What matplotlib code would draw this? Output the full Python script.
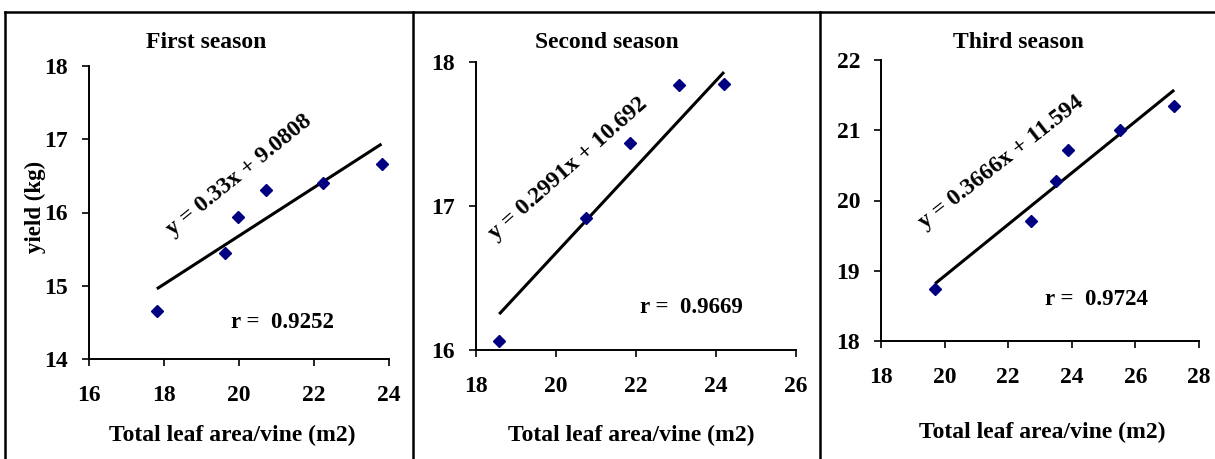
import matplotlib.pyplot as plt
from matplotlib.lines import Line2D
import numpy as np

plt.rcParams['font.family'] = ['Liberation Serif', 'DejaVu Serif']
plt.rcParams['font.weight'] = 'bold'

# data
titles = ["First season", "Second season", "Third season"]

x1 = [17.81, 19.62, 19.98, 20.72, 22.23, 23.80]
y1 = [14.66, 15.45, 15.94, 16.31, 16.40, 16.66]
x2 = [18.58, 20.75, 21.86, 23.07, 24.20]
y2 = [16.06, 16.92, 17.44, 17.84, 17.85]
x3 = [19.70, 22.71, 23.49, 23.89, 25.52, 27.22]
y3 = [18.74, 19.71, 20.28, 20.72, 21.01, 21.34]

slopes = [0.33, 0.2991, 0.3666]
intercepts = [9.0808, 10.692, 11.594]
eq_labels = ["y = 0.33x + 9.0808", "y = 0.2991x + 10.692", "y = 0.3666x + 11.594"]
r_labels = ["r =  0.9252", "r =  0.9669", "r =  0.9724"]

xlims = [(16, 24), (18, 26), (18, 28)]
ylims = [(14, 18), (16, 18), (18, 22)]
yticks = [[14, 15, 16, 17, 18], [16, 17, 18], [18, 19, 20, 21, 22]]

W, H = 1215, 459
fig = plt.figure(figsize=(W / 100, H / 100), dpi=100)

# axes boxes in pixels: left, right, top, bottom
boxes = [(89, 389, 66, 359), (476, 796, 62, 350), (881, 1199, 60, 341)]
title_pos = [(206, 43), (607, 43), (1018, 43)]
xlabel_pos = [(232, 435), (631, 435), (1042, 432)]
eq_pos = [(0.50, 0.628, 39), (0.288, 0.631, 41.5), (0.38, 0.637, 38)]
r_pos = [(0.645, 0.123), (0.673, 0.146), (0.678, 0.146)]

xs = [x1, x2, x3]
ys = [y1, y2, y3]

for i in range(3):
    l, r, t, b = boxes[i]
    ax = fig.add_axes([l / W, 1 - b / H, (r - l) / W, (b - t) / H])
    ax.set_xlim(*xlims[i])
    ax.set_ylim(*ylims[i])
    ax.set_xticks(np.arange(xlims[i][0], xlims[i][1] + 1, 2))
    ax.set_yticks(yticks[i])
    for s in ['top', 'right']:
        ax.spines[s].set_visible(False)
    for s in ['left', 'bottom']:
        ax.spines[s].set_linewidth(1.4)
    ax.tick_params(axis='both', direction='out', length=5, width=1.2, labelsize=17)
    ax.tick_params(axis='x', pad=14)
    ax.tick_params(axis='y', pad=10)

    ax.plot(xs[i], ys[i], linestyle='none', marker='D', ms=6,
            color='#000080', clip_on=False, zorder=3)
    xf = np.array([min(xs[i]), max(xs[i])])
    ax.plot(xf, slopes[i] * xf + intercepts[i], color='black', lw=2.2,
            solid_capstyle='butt', zorder=2)

    ex, ey, ang = eq_pos[i]
    ax.text(ex, ey, eq_labels[i], transform=ax.transAxes, rotation=ang,
            rotation_mode='anchor', ha='center', va='center',
            fontsize=17, fontweight='bold')
    rx, ry = r_pos[i]
    ax.text(rx, ry, r_labels[i], transform=ax.transAxes, ha='center',
            va='center', fontsize=16.5, fontweight='bold')

    tx, ty = title_pos[i]
    fig.text(tx / W, 1 - ty / H, titles[i], ha='center', va='center',
             fontsize=17, fontweight='bold')
    lx, ly = xlabel_pos[i]
    fig.text(lx / W, 1 - ly / H, "Total leaf area/vine (m2)", ha='center',
             va='center', fontsize=17, fontweight='bold')

fig.text(35 / W, 1 - 207 / H, "yield (kg)", rotation=90, ha='center',
         va='center', fontsize=16.5, fontweight='bold')

# outer frame and panel dividers
frame = dict(color='black', lw=1.8, transform=fig.transFigure)
fig.add_artist(Line2D([5 / W, 1], [1 - 12 / H, 1 - 12 / H], **frame))
fig.add_artist(Line2D([5 / W, 5 / W], [0, 1 - 12 / H], **frame))
fig.add_artist(Line2D([413 / W, 413 / W], [0, 1 - 12 / H], **frame))
fig.add_artist(Line2D([820 / W, 820 / W], [0, 1 - 12 / H], **frame))

fig.savefig("out.png", dpi=100, facecolor='white')
